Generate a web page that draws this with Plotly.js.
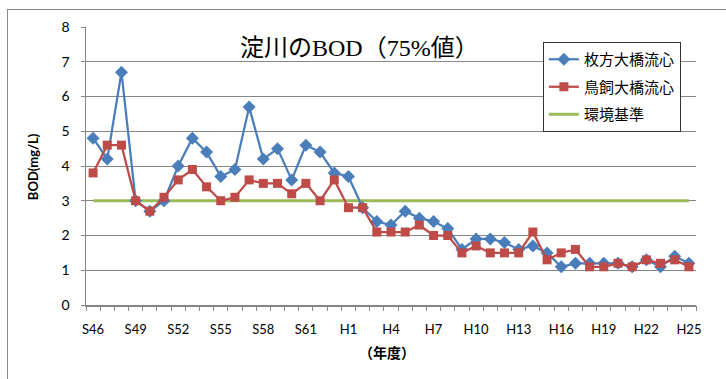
<!DOCTYPE html>
<html>
<head>
<meta charset="utf-8">
<script src="https://cdn.plot.ly/plotly-3.0.1.min.js"></script>
<style>
  html, body { margin: 0; padding: 0; background: #fff; }
  #wrap { position: relative; width: 726px; height: 379px; overflow: hidden; }
  #chart { position: absolute; left: 0; top: 0; width: 726px; height: 379px; }
  #frame { position: absolute; left: 7px; top: 9px; width: 800px; height: 500px;
           border: 1px solid #8c8c8c; pointer-events: none; }
</style>
</head>
<body>
<div id="wrap">
  <div id="chart"></div>
  <div id="frame"></div>
</div>
<script>
// Fiscal years S46 (1971) to H25 (2013)
const years = [
  "S46","S47","S48","S49","S50","S51","S52","S53","S54","S55",
  "S56","S57","S58","S59","S60","S61","S62","S63",
  "H1","H2","H3","H4","H5","H6","H7","H8","H9","H10",
  "H11","H12","H13","H14","H15","H16","H17","H18","H19","H20",
  "H21","H22","H23","H24","H25"
];

// BOD 75% values (mg/L)
const hirakata = [
  4.8,4.2,6.7,3.0,2.7,3.0,4.0,4.8,4.4,3.7,
  3.9,5.7,4.2,4.5,3.6,4.6,4.4,3.8,
  3.7,2.8,2.4,2.3,2.7,2.5,2.4,2.2,1.6,1.9,
  1.9,1.8,1.6,1.7,1.5,1.1,1.2,1.2,1.2,1.2,
  1.1,1.3,1.1,1.4,1.2
];
const torikai = [
  3.8,4.6,4.6,3.0,2.7,3.1,3.6,3.9,3.4,3.0,
  3.1,3.6,3.5,3.5,3.2,3.5,3.0,3.6,
  2.8,2.8,2.1,2.1,2.1,2.3,2.0,2.0,1.5,1.7,
  1.5,1.5,1.5,2.1,1.3,1.5,1.6,1.1,1.1,1.2,
  1.1,1.3,1.2,1.3,1.1
];
const standardValue = 3;
const standard = years.map(() => standardValue);

const labelStep = 3;
const idx = years.map((_, i) => i);
const labelIdx = idx.filter(i => i % labelStep === 0);
const labelText = labelIdx.map(i => years[i]);
const boundaries = idx.concat([years.length]).map(i => i - 0.5);

const baseFont = "Lato, Noto Sans CJK JP, sans-serif";
const cjkFont = "Noto Sans CJK JP, sans-serif";
const titleFont = "Liberation Serif, Noto Sans CJK JP, serif";
const axisGray = "#868686";

const traces = [
  {
    x: idx, y: standard, name: "環境基準", type: "scatter", mode: "lines",
    line: { color: "#9BBB59", width: 3 }, legendrank: 3, legendgroup: "c",
    hoverinfo: "skip"
  },
  {
    x: idx, y: hirakata, name: "枚方大橋流心", type: "scatter", mode: "lines+markers",
    line: { color: "#4A7EBB", width: 2.25 },
    marker: { symbol: "diamond", size: 10, color: "#4A7EBB" },
    legendrank: 1, legendgroup: "a"
  },
  {
    x: idx, y: torikai, name: "鳥飼大橋流心", type: "scatter", mode: "lines+markers",
    line: { color: "#BE4B48", width: 2.25 },
    marker: { symbol: "square", size: 9, color: "#BE4B48" },
    legendrank: 2, legendgroup: "b"
  },
  {
    // carries the category boundary tick marks
    x: [], y: [], xaxis: "x2", yaxis: "y", showlegend: false, hoverinfo: "skip",
    type: "scatter", mode: "lines"
  }
];

const layout = {
  width: 726, height: 379,
  margin: { l: 86, r: 30, t: 27, b: 74 },
  paper_bgcolor: "#ffffff", plot_bgcolor: "#ffffff",
  font: { family: baseFont, size: 13, color: "#000" },
  showlegend: true,
  legend: {
    x: 0.749, y: 0.946, xanchor: "left", yanchor: "top",
    bgcolor: "#ffffff", bordercolor: "#333333", borderwidth: 1,
    font: { family: cjkFont, size: 15, color: "#000" },
    itemwidth: 30, tracegroupgap: 5, traceorder: "grouped"
  },
  xaxis: {
    range: [-0.5, years.length - 0.5],
    tickmode: "array", tickvals: labelIdx, ticktext: labelText,
    ticks: "", showgrid: false, zeroline: false,
    showline: true, linecolor: axisGray, linewidth: 1.5,
    ticklabelstandoff: 12,
    tickfont: { family: baseFont, size: 13, color: "#000" },
    fixedrange: true
  },
  xaxis2: {
    overlaying: "x", anchor: "y", side: "bottom",
    range: [-0.5, years.length - 0.5],
    tickmode: "array", tickvals: boundaries, ticktext: boundaries.map(() => ""),
    ticks: "outside", ticklen: 5, tickwidth: 1, tickcolor: axisGray,
    showgrid: false, zeroline: false, showline: false, showticklabels: false
  },
  yaxis: {
    range: [0, 8], dtick: 1, tick0: 0,
    showgrid: true, gridcolor: axisGray, gridwidth: 1,
    zeroline: false, showline: true, linecolor: axisGray, linewidth: 1.5,
    ticks: "outside", ticklen: 4, tickcolor: axisGray,
    ticklabelstandoff: 8,
    tickfont: { family: baseFont, size: 14, color: "#000" },
    fixedrange: true
  },
  annotations: [
    {
      text: "淀川のBOD（75%値）", xref: "paper", yref: "paper",
      x: 0.449, y: 0.924, xanchor: "center", yanchor: "middle", showarrow: false,
      font: { family: titleFont, size: 24, color: "#000" }
    },
    {
      text: "<b>BOD(mg/L)</b>", xref: "paper", yref: "paper",
      x: -0.0868, y: 0.496, xanchor: "center", yanchor: "middle", textangle: -90,
      showarrow: false, font: { family: baseFont, size: 13, color: "#000" }
    },
    {
      text: "<b>（年度）</b>", xref: "paper", yref: "paper",
      x: 0.493, y: -0.169, xanchor: "center", yanchor: "middle",
      showarrow: false, font: { family: cjkFont, size: 14, color: "#000" }
    }
  ]
};

Plotly.newPlot("chart", traces, layout, { displayModeBar: false, staticPlot: true });
</script>
</body>
</html>
